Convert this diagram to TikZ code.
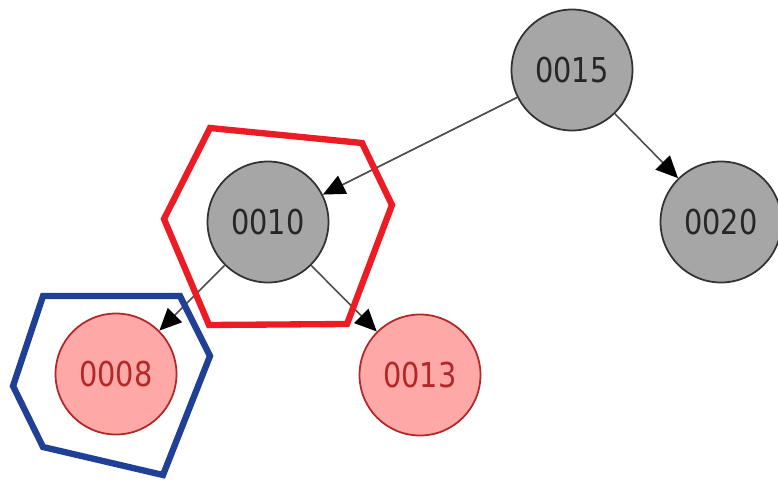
\documentclass[tikz,border=0pt]{standalone}
\usepackage{fontspec}
\setmainfont{DejaVu Sans}
\newfontfamily\keyfont[FakeStretch=0.84]{DejaVu Sans}
\usepackage{tikz}
\usetikzlibrary{arrows.meta,positioning}
\usepackage{xcolor}
\definecolor{keygrey}{RGB}{166,166,166}
\definecolor{keypink}{RGB}{255,168,168}
\definecolor{keyred}{RGB}{178,40,40}
\definecolor{hexred}{RGB}{237,28,36}
\definecolor{hexblue}{RGB}{32,64,152}
\tikzset{
  key/.style={circle,draw=black!80,fill=keygrey,line width=1pt,inner sep=0pt,
              minimum size=2.42cm,text=black!85,
              font=\keyfont\fontsize{19.5}{19.5}\selectfont},
  hit/.style={key,draw=keyred,fill=keypink,text=keyred},
  child/.style={-{Triangle[length=0.44cm,width=0.4cm,color=black]},draw=black!70,
                line width=.9pt},
  hexsel/.style={draw=hexred,line width=3.6pt,line join=miter},
  hexcur/.style={draw=hexblue,line width=3.6pt,line join=miter},
}
\begin{document}
\begin{tikzpicture}[x=0.02cm,y=-0.02cm]
  \useasboundingbox (0,0) rectangle (778,480);
  % ---------------- tree keys ----------------
  \node[key] (k15) at (572,70)  {0015};
  \node[key] (k10) at (268,222) {0010};
  \node[key] (k20) at (721,222) {0020};
  \node[hit] (k08) at (116,374) {0008};
  \node[hit] (k13) at (420,375) {0013};
  % ---------------- child edges ----------------
  \draw[child] (k15) -- (k10);
  \draw[child] (k15) -- (k20);
  \draw[child] (k10) -- (k08);
  \draw[child] (k10) -- (k13);
  % ---------------- highlight hexagons ----------------
  \draw[hexsel] (210,128) -- (362,143) -- (392,205) -- (347,324) -- (209,325)
    -- (164,219) -- cycle;
  \draw[hexcur] (43,296) -- (180,296) -- (210,356) -- (163,475) -- (43,447)
    -- (13,386) -- cycle;
\end{tikzpicture}
\end{document}
